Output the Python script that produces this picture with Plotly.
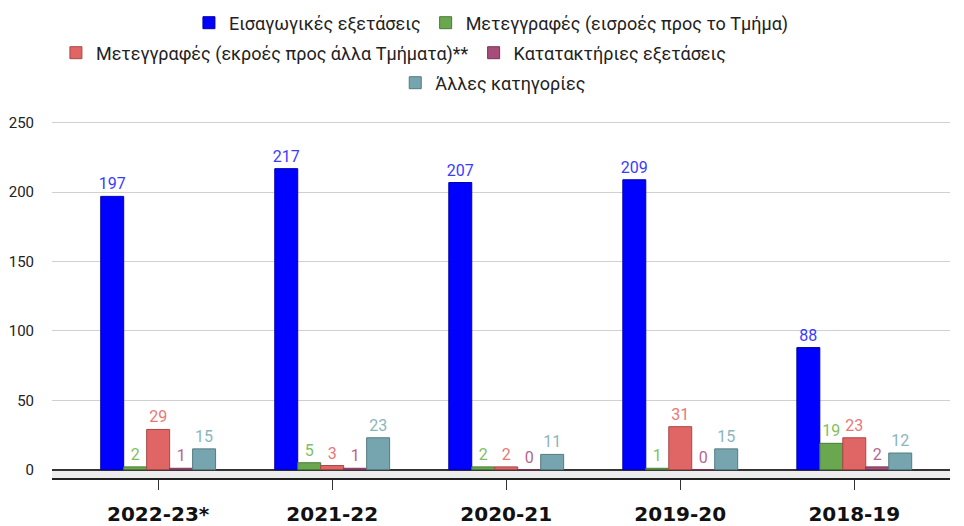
import plotly.graph_objects as go

years = ["2022-23*", "2021-22", "2020-21", "2019-20", "2018-19"]
series_names = [
    "Εισαγωγικές εξετάσεις",
    "Μετεγγραφές (εισροές προς το Τμήμα)",
    "Μετεγγραφές (εκροές προς άλλα Τμήματα)**",
    "Κατατακτήριες εξετάσεις",
    "Άλλες κατηγορίες",
]
eisagogikes = [197, 217, 207, 209, 88]
metegrafes_in = [2, 5, 2, 1, 19]
metegrafes_out = [29, 3, 2, 31, 23]
katataktiries = [1, 1, 0, 0, 2]
alles = [15, 23, 11, 15, 12]

values = [eisagogikes, metegrafes_in, metegrafes_out, katataktiries, alles]
bar_colors = ["#0000ff", "#6aa84f", "#e06666", "#a64d79", "#76a5af"]
line_colors = ["#0000a8", "#4a7a36", "#a84848", "#7a3458", "#557a82"]
text_colors = ["#3b3bff", "#7fbf62", "#e87878", "#b56690", "#8bb5be"]
legend_ids = ["legend", "legend", "legend2", "legend2", "legend3"]

fig = go.Figure()
for name, vals, c, lc, tc, lg in zip(series_names, values, bar_colors, line_colors, text_colors, legend_ids):
    fig.add_trace(go.Bar(
        x=years, y=vals, name=name,
        marker=dict(color=c, line=dict(color=lc, width=1)),
        text=[str(v) for v in vals], textposition="outside", constraintext="none",
        textfont=dict(color=tc, size=16, family="Roboto"),
        cliponaxis=False, legend=lg,
    ))

fig.add_shape(type="rect", xref="paper", yref="y", x0=0, x1=1, y0=-6, y1=0,
              fillcolor="#ececec", line=dict(width=0), layer="below")

legend_font = dict(family="Roboto", size=18, color="#222222")
fig.update_layout(
    width=964, height=526,
    margin=dict(l=52, r=14, t=109, b=48, autoexpand=False),
    paper_bgcolor="white", plot_bgcolor="white",
    barmode="group", bargap=0.34, bargroupgap=0.0,
    showlegend=True,
    legend=dict(orientation="h", xref="container", yref="container", x=0.196, y=1 - 23 / 526,
                xanchor="left", yanchor="middle", font=legend_font, traceorder="normal"),
    legend2=dict(orientation="h", xref="container", yref="container", x=0.058, y=1 - 53 / 526,
                 xanchor="left", yanchor="middle", font=legend_font, traceorder="normal"),
    legend3=dict(orientation="h", xref="container", yref="container", x=0.41, y=1 - 83 / 526,
                 xanchor="left", yanchor="middle", font=legend_font),
    xaxis=dict(
        type="category", range=[-0.61, 4.55], automargin=False,
        showline=True, linecolor="#222222", linewidth=2,
        ticks="outside", ticklen=10, tickcolor="#333333", tickwidth=1,
        tickfont=dict(family="DejaVu Sans", size=20, color="#111111", weight="bold"),
        ticklabelstandoff=7,
        showgrid=False,
    ),
    yaxis=dict(
        range=[-6, 260], tickvals=[0, 50, 100, 150, 200, 250], automargin=False,
        showgrid=True, gridcolor="#d0d0d0", gridwidth=1,
        zeroline=True, zerolinecolor="#333333", zerolinewidth=1.5,
        tickfont=dict(family="Roboto", size=15, color="#222222"),
        ticklabelstandoff=17, showline=False,
    ),
)

fig.write_html("out.html", config={"displayModeBar": False},
               post_script="document.body.style.margin='0';")
